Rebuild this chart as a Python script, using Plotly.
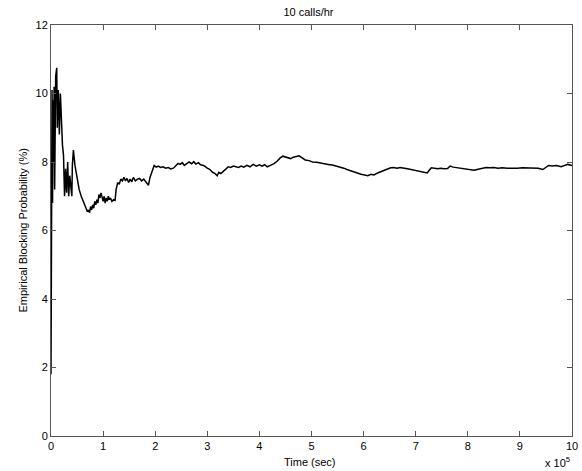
import plotly.graph_objects as go

# time in units of 1e5 sec, blocking probability in %
time_1e5 = [0.000, 0.004, 0.006, 0.010, 0.015, 0.020, 0.030, 0.040, 0.050, 0.060, 0.070, 0.090, 0.110,
            0.120, 0.140, 0.160, 0.180, 0.200, 0.220, 0.240, 0.260, 0.280, 0.300, 0.320, 0.340, 0.360,
            0.380, 0.400, 0.410, 0.430, 0.460, 0.500, 0.540, 0.580, 0.620, 0.660, 0.700, 0.720, 0.740,
            0.76, 0.78, 0.80, 0.82, 0.84, 0.86, 0.88, 0.90, 0.92, 0.94, 0.96, 0.98, 1.00, 1.02, 1.04,
            1.06, 1.08, 1.10, 1.12, 1.14, 1.17, 1.20, 1.23, 1.25, 1.28, 1.31, 1.34, 1.37, 1.40, 1.43,
            1.46, 1.49, 1.52, 1.55, 1.58, 1.62, 1.66, 1.70, 1.74, 1.78, 1.82, 1.85, 1.87, 1.90, 1.94,
            1.98, 2.02, 2.06, 2.10, 2.15, 2.20, 2.25, 2.30, 2.35, 2.40, 2.44, 2.48, 2.52, 2.56, 2.60,
            2.65, 2.70, 2.74, 2.78, 2.83, 2.87, 2.93, 3.00, 3.05, 3.10, 3.15, 3.19, 3.22, 3.26, 3.31,
            3.36, 3.40, 3.45, 3.50, 3.55, 3.60, 3.65, 3.70, 3.76, 3.82, 3.88, 3.94, 4.00, 4.05, 4.10,
            4.15, 4.21, 4.28, 4.34, 4.40, 4.45, 4.50, 4.55, 4.60, 4.65, 4.70, 4.76, 4.82, 4.88, 4.95,
            5.02, 5.10, 5.18, 5.25, 5.32, 5.40, 5.48, 5.56, 5.62, 5.68, 5.75, 5.81, 5.88, 5.95, 6.02,
            6.08, 6.14, 6.20, 6.27, 6.33, 6.40, 6.46, 6.52, 6.58, 6.64, 6.70, 6.77, 6.84, 6.91, 6.97,
            7.03, 7.10, 7.16, 7.22, 7.26, 7.30, 7.36, 7.42, 7.48, 7.55, 7.61, 7.66, 7.72, 7.80, 7.87,
            7.93, 8.00, 8.06, 8.12, 8.20, 8.28, 8.35, 8.42, 8.50, 8.58, 8.66, 8.76, 8.85, 8.95, 9.05,
            9.15, 9.25, 9.35, 9.44, 9.50, 9.55, 9.62, 9.70, 9.79, 9.86, 9.92, 10.0]

blocking_pct = [1.8, 4.3, 4.8, 6.2, 7.6, 10.1, 6.8, 9.8, 8.0, 10.2, 7.2, 10.5, 10.75,
                9.0, 10.1, 8.8, 10.0, 9.0, 8.5, 8.2, 7.0, 7.8, 7.1, 8.0, 7.0, 7.6,
                7.2, 7.0, 7.9, 8.35, 7.9, 7.5, 7.2, 7.0, 6.85, 6.65, 6.55, 6.6, 6.52,
                6.7, 6.6, 6.75, 6.65, 6.85, 6.75, 6.9, 6.8, 7.05, 6.95, 7.1, 6.95, 6.85, 7.0, 6.8,
                6.95, 6.85, 7.0, 6.9, 6.95, 6.85, 6.9, 6.88, 7.2, 7.4, 7.35, 7.5, 7.45, 7.55, 7.45,
                7.52, 7.4, 7.5, 7.42, 7.55, 7.45, 7.5, 7.52, 7.45, 7.5, 7.42, 7.35, 7.32, 7.55, 7.75,
                7.9, 7.85, 7.88, 7.84, 7.86, 7.82, 7.84, 7.8, 7.82, 7.9, 7.96, 7.93, 7.98, 7.9, 7.94,
                8.0, 7.95, 8.01, 7.94, 7.98, 7.92, 7.9, 7.82, 7.78, 7.7, 7.66, 7.6, 7.7, 7.66, 7.72,
                7.8, 7.86, 7.84, 7.88, 7.86, 7.84, 7.88, 7.85, 7.9, 7.86, 7.93, 7.88, 7.92, 7.88, 7.92,
                7.86, 7.9, 7.95, 8.02, 8.12, 8.17, 8.14, 8.12, 8.1, 8.14, 8.15, 8.18, 8.12, 8.06, 8.04,
                8.0, 7.99, 7.96, 7.95, 7.93, 7.91, 7.88, 7.86, 7.82, 7.78, 7.74, 7.72, 7.68, 7.64, 7.62,
                7.6, 7.64, 7.62, 7.68, 7.72, 7.76, 7.8, 7.83, 7.84, 7.82, 7.84, 7.81, 7.8, 7.78, 7.76,
                7.75, 7.72, 7.7, 7.68, 7.76, 7.83, 7.82, 7.8, 7.82, 7.8, 7.81, 7.88, 7.85, 7.83, 7.82,
                7.8, 7.78, 7.77, 7.76, 7.79, 7.82, 7.84, 7.83, 7.84, 7.82, 7.83, 7.82, 7.83, 7.82, 7.83,
                7.82, 7.83, 7.82, 7.78, 7.86, 7.9, 7.88, 7.9, 7.86, 7.9, 7.93, 7.9]

x_ticks = [0, 1, 2, 3, 4, 5, 6, 7, 8, 9, 10]
y_ticks = [0, 2, 4, 6, 8, 10, 12]

font = dict(family="Liberation Sans, Arial, sans-serif", size=11, color="black")

fig = go.Figure()
fig.add_trace(go.Scatter(x=time_1e5, y=blocking_pct, mode="lines",
                         line=dict(color="black", width=1.5), showlegend=False))

axis_common = dict(showgrid=False, zeroline=False, showline=True, linecolor="#555555",
                   linewidth=1, mirror="ticks", ticks="inside", ticklen=5,
                   tickcolor="#555555", tickfont=font, automargin=False)

fig.update_xaxes(range=[0, 10], tickvals=x_ticks, ticktext=[str(v) for v in x_ticks],
                 **axis_common)
fig.update_yaxes(range=[0, 12], tickvals=y_ticks, ticktext=[str(v) for v in y_ticks],
                 **axis_common)

fig.add_annotation(text="Time (sec)", xref="paper", yref="paper", x=0.497, y=0,
                   xanchor="center", yanchor="middle", yshift=-26, showarrow=False, font=font)
fig.add_annotation(text="Empirical Blocking Probability (%)", xref="paper", yref="paper",
                   x=0, y=0.5, xanchor="center", yanchor="middle", xshift=-29, textangle=-90,
                   showarrow=False, font=font)
fig.add_annotation(text="x 10<sup>5</sup>", xref="paper", yref="paper", x=1.0, y=0,
                   xanchor="right", yanchor="bottom", yshift=-35, showarrow=False, font=font)

fig.update_layout(
    width=582, height=471,
    margin=dict(l=51, r=10, t=25, b=35),
    paper_bgcolor="white", plot_bgcolor="white",
    title=dict(text="10 calls/hr", x=0.53, xanchor="center", y=0.975, yanchor="middle", font=font),
    font=font,
)

fig.write_html("out.html", config={"displayModeBar": False},
               post_script="document.body.style.margin='0px';document.body.style.overflow='hidden';")
